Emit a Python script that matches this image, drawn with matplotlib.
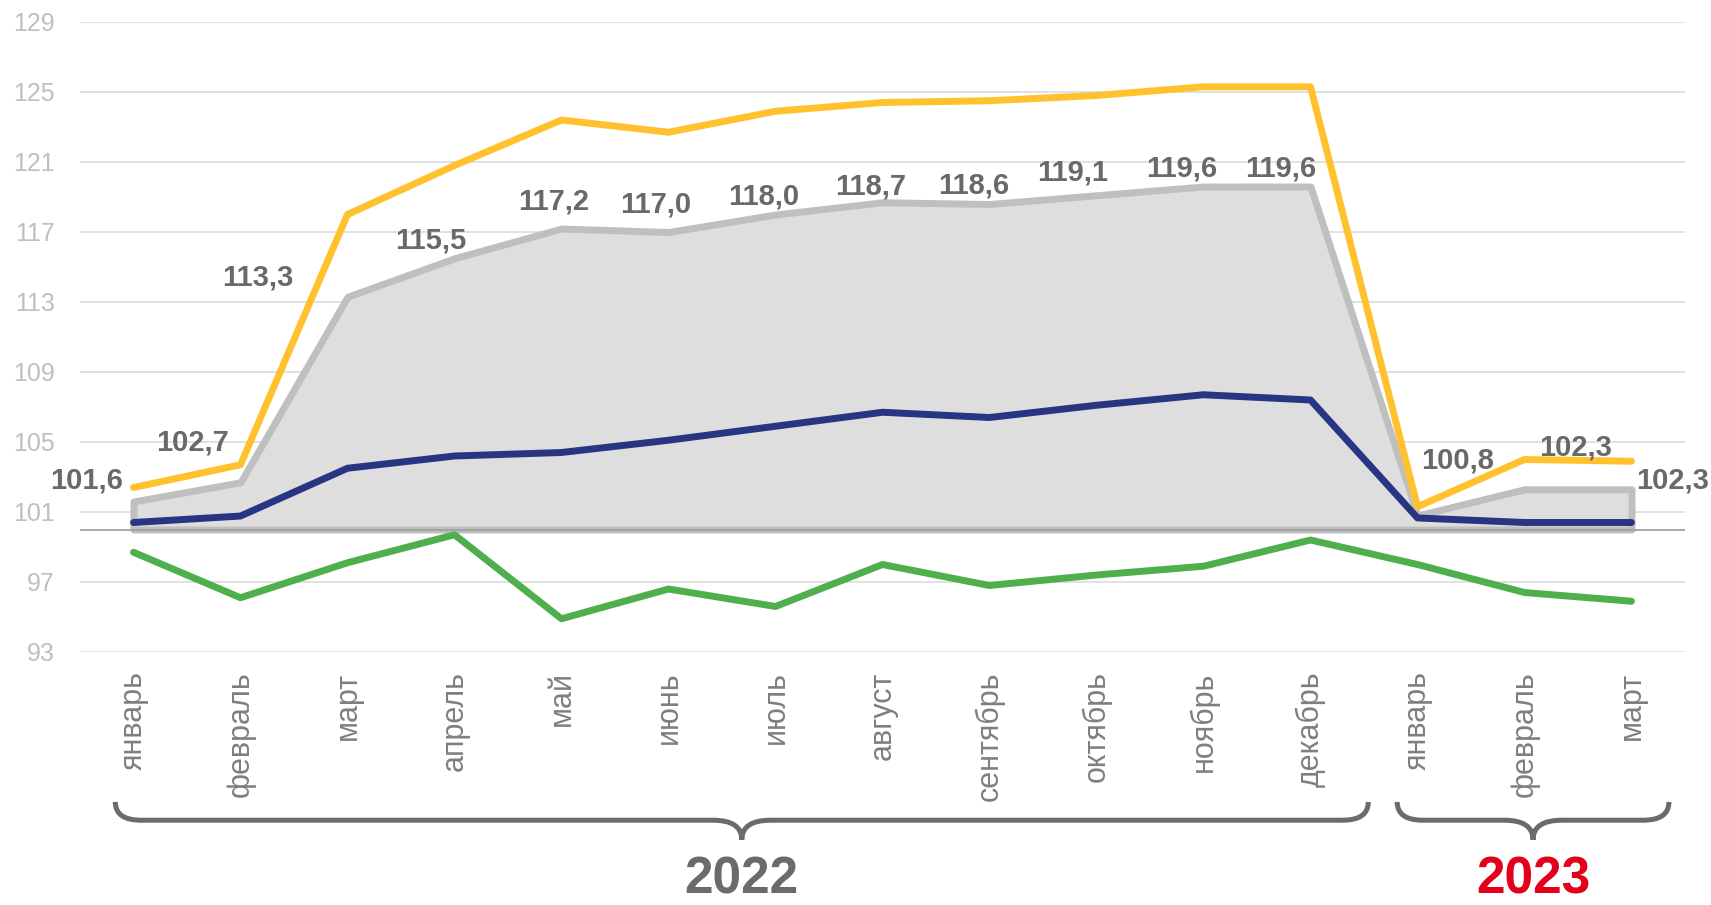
import matplotlib
matplotlib.use("Agg")
import matplotlib.pyplot as plt
from matplotlib.path import Path
from matplotlib.patches import PathPatch
import matplotlib.transforms as mtransforms
import numpy as np

plt.rcParams['font.family'] = ['Liberation Sans', 'DejaVu Sans']

# ---- data ----
months = ["январь", "февраль", "март", "апрель", "май", "июнь", "июль", "август",
          "сентябрь", "октябрь", "ноябрь", "декабрь", "январь", "февраль", "март"]
gray_vals = [101.6, 102.7, 113.3, 115.5, 117.2, 117.0, 118.0, 118.7, 118.6, 119.1,
             119.6, 119.6, 100.8, 102.3, 102.3]
yellow_vals = [102.4, 103.7, 118.0, 120.8, 123.4, 122.7, 123.9, 124.4, 124.5, 124.8,
               125.3, 125.3, 101.3, 104.0, 103.9]
navy_vals = [100.4, 100.77, 103.5, 104.2, 104.4, 105.1, 105.9, 106.7, 106.4, 107.1,
             107.7, 107.4, 100.66, 100.4, 100.4]
green_vals = [98.7, 96.1, 98.1, 99.7, 94.9, 96.6, 95.6, 98.0, 96.8, 97.4,
              97.9, 99.4, 98.0, 96.4, 95.9]
y_ticks = [93, 97, 101, 105, 109, 113, 117, 121, 125, 129]
years = ["2022", "2023"]
year_spans = [(0, 11), (12, 14)]
baseline = 100

# label offsets in pixels (dx, dy) from each gray point
label_offsets = [(-47, 21), (-48, 40), (-90, 19), (-24, 18), (-8, 27), (-13, 27),
                 (-12, 18), (-12, 16), (-16, 18), (-24, 23), (-22, 18), (-30, 18),
                 (40, 55), (51, 42), (41, 9)]
# brace extension beyond first/last category (data units)
brace_pad = [(-0.17, 0.54), (-0.19, 0.35)]

x = np.arange(len(months))

fig = plt.figure(figsize=(17.11, 9.05), dpi=100)
ax = fig.add_axes([80/1711, 1-652/905, (1685-80)/1711, 630/905])

ax.set_xlim(-0.5, len(months) - 0.5)
ax.set_ylim(93, 129)

# grid
ax.set_yticks(y_ticks)
ax.yaxis.grid(True, color='#D9D9D9', lw=1.1, zorder=0)
ax.set_axisbelow(True)

# gray area
ax.fill_between(x, baseline, gray_vals, facecolor='#DEDEDE', edgecolor='#BFBFBF',
                lw=5, joinstyle='round', zorder=2)
ax.axhline(baseline, color='#A0A0A0', lw=1.3, zorder=3)

ax.plot(x, green_vals, color='#4EAF4C', lw=5, solid_capstyle='round', zorder=4)
ax.plot(x, navy_vals, color='#283583', lw=5, solid_capstyle='round', zorder=5)
ax.plot(x, yellow_vals, color='#FFC22E', lw=5, solid_capstyle='round', zorder=6)

# data labels
for xi, v, (dx, dy) in zip(x, gray_vals, label_offsets):
    ax.annotate(f"{v:.1f}".replace('.', ','), (xi, v), xytext=(dx, dy),
                textcoords='offset pixels', ha='center', va='center',
                fontsize=21, fontweight='bold', color='#696969', zorder=7)

# axes styling
for s in ax.spines.values():
    s.set_visible(False)
ax.set_xticks(x)
ax.set_xticklabels(months, rotation=90, fontsize=22, color='#7F7F7F', va='top')
ax.tick_params(axis='x', length=0, pad=14)
ax.tick_params(axis='y', length=0, pad=18, labelsize=18, labelcolor='#BFBFBF')

# braces
trans = mtransforms.blended_transform_factory(ax.transData, ax.transAxes)

def brace(x0, x1, y_top=-0.238, y_mid=-0.267, y_tip=-0.298, rx=0.24, rc=0.27):
    xc = (x0 + x1) / 2
    verts = [(x0, y_top), (x0, y_mid), (x0 + rx, y_mid),
             (xc - rc, y_mid),
             (xc, y_mid), (xc, y_tip),
             (xc, y_mid), (xc + rc, y_mid),
             (x1 - rx, y_mid),
             (x1, y_mid), (x1, y_top)]
    codes = [Path.MOVETO, Path.CURVE3, Path.CURVE3,
             Path.LINETO,
             Path.CURVE3, Path.CURVE3,
             Path.CURVE3, Path.CURVE3,
             Path.LINETO,
             Path.CURVE3, Path.CURVE3]
    p = PathPatch(Path(verts, codes), transform=trans, fill=False,
                  edgecolor='#6B6B6B', lw=3.6, clip_on=False, capstyle='butt')
    ax.add_patch(p)
    return xc

year_colors = ['#6B6B6B', '#E2001A']
for (a, b), (pa, pb), yr, col in zip(year_spans, brace_pad, years, year_colors):
    xc = brace(a + pa, b + pb)
    ax.text(xc, -0.384, yr, transform=trans, ha='center', va='baseline',
            fontsize=37, fontweight='bold', color=col)

fig.savefig("out.png", dpi=100)
